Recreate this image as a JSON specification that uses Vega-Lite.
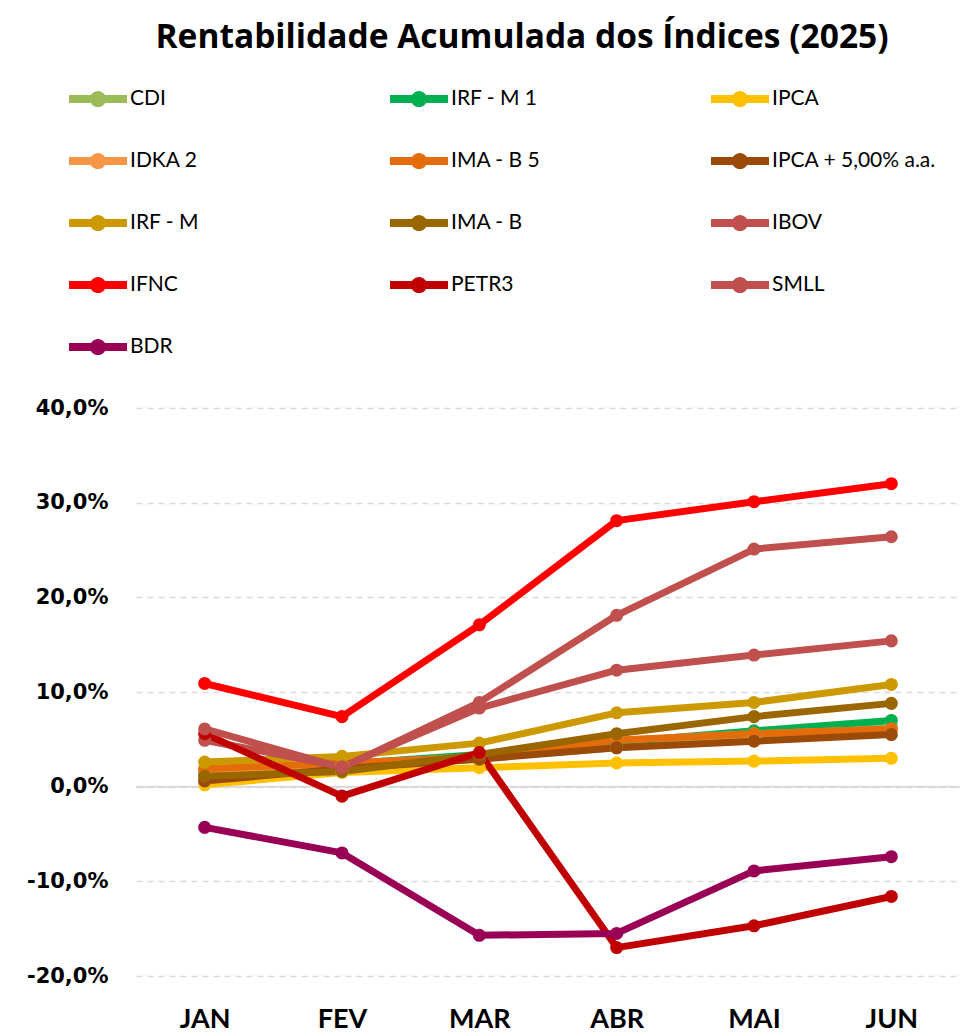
{
  "$schema": "https://vega.github.io/schema/vega-lite/v6.json",
  "autosize": "none",
  "width": 824,
  "height": 568,
  "padding": {"left": 136, "top": 408, "right": 6, "bottom": 60},
  "background": "white",
  "config": {"view": {"stroke": null}},
  "title": {
    "text": "Rentabilidade Acumulada dos Índices (2025)",
    "font": "Open Sans",
    "fontSize": 33.5,
    "fontWeight": "bold",
    "color": "#000000",
    "frame": "group",
    "anchor": "middle",
    "baseline": "alphabetic",
    "offset": -11,
    "dx": -26
  },
  "data": {
    "values": [
      {"serie": "CDI", "mes": "JAN", "valor": 1.0},
      {"serie": "CDI", "mes": "FEV", "valor": 2.0},
      {"serie": "CDI", "mes": "MAR", "valor": 3.0},
      {"serie": "CDI", "mes": "ABR", "valor": 4.1},
      {"serie": "CDI", "mes": "MAI", "valor": 5.3},
      {"serie": "CDI", "mes": "JUN", "valor": 6.4},
      {"serie": "IRF - M 1", "mes": "JAN", "valor": 1.4},
      {"serie": "IRF - M 1", "mes": "FEV", "valor": 2.4},
      {"serie": "IRF - M 1", "mes": "MAR", "valor": 3.4},
      {"serie": "IRF - M 1", "mes": "ABR", "valor": 4.7},
      {"serie": "IRF - M 1", "mes": "MAI", "valor": 5.9},
      {"serie": "IRF - M 1", "mes": "JUN", "valor": 7.0},
      {"serie": "IPCA", "mes": "JAN", "valor": 0.2},
      {"serie": "IPCA", "mes": "FEV", "valor": 1.5},
      {"serie": "IPCA", "mes": "MAR", "valor": 2.0},
      {"serie": "IPCA", "mes": "ABR", "valor": 2.5},
      {"serie": "IPCA", "mes": "MAI", "valor": 2.7},
      {"serie": "IPCA", "mes": "JUN", "valor": 3.0},
      {"serie": "IDKA 2", "mes": "JAN", "valor": 1.7},
      {"serie": "IDKA 2", "mes": "FEV", "valor": 2.4},
      {"serie": "IDKA 2", "mes": "MAR", "valor": 3.2},
      {"serie": "IDKA 2", "mes": "ABR", "valor": 4.9},
      {"serie": "IDKA 2", "mes": "MAI", "valor": 5.6},
      {"serie": "IDKA 2", "mes": "JUN", "valor": 6.1},
      {"serie": "IMA - B 5", "mes": "JAN", "valor": 1.9},
      {"serie": "IMA - B 5", "mes": "FEV", "valor": 2.5},
      {"serie": "IMA - B 5", "mes": "MAR", "valor": 3.1},
      {"serie": "IMA - B 5", "mes": "ABR", "valor": 4.9},
      {"serie": "IMA - B 5", "mes": "MAI", "valor": 5.6},
      {"serie": "IMA - B 5", "mes": "JUN", "valor": 6.1},
      {"serie": "IPCA + 5,00% a.a.", "mes": "JAN", "valor": 0.6},
      {"serie": "IPCA + 5,00% a.a.", "mes": "FEV", "valor": 1.9},
      {"serie": "IPCA + 5,00% a.a.", "mes": "MAR", "valor": 2.9},
      {"serie": "IPCA + 5,00% a.a.", "mes": "ABR", "valor": 4.1},
      {"serie": "IPCA + 5,00% a.a.", "mes": "MAI", "valor": 4.8},
      {"serie": "IPCA + 5,00% a.a.", "mes": "JUN", "valor": 5.5},
      {"serie": "IRF - M", "mes": "JAN", "valor": 2.6},
      {"serie": "IRF - M", "mes": "FEV", "valor": 3.2},
      {"serie": "IRF - M", "mes": "MAR", "valor": 4.6},
      {"serie": "IRF - M", "mes": "ABR", "valor": 7.8},
      {"serie": "IRF - M", "mes": "MAI", "valor": 8.9},
      {"serie": "IRF - M", "mes": "JUN", "valor": 10.8},
      {"serie": "IMA - B", "mes": "JAN", "valor": 1.1},
      {"serie": "IMA - B", "mes": "FEV", "valor": 1.6},
      {"serie": "IMA - B", "mes": "MAR", "valor": 3.4},
      {"serie": "IMA - B", "mes": "ABR", "valor": 5.6},
      {"serie": "IMA - B", "mes": "MAI", "valor": 7.4},
      {"serie": "IMA - B", "mes": "JUN", "valor": 8.8},
      {"serie": "IBOV", "mes": "JAN", "valor": 4.9},
      {"serie": "IBOV", "mes": "FEV", "valor": 2.1},
      {"serie": "IBOV", "mes": "MAR", "valor": 8.3},
      {"serie": "IBOV", "mes": "ABR", "valor": 12.3},
      {"serie": "IBOV", "mes": "MAI", "valor": 13.9},
      {"serie": "IBOV", "mes": "JUN", "valor": 15.4},
      {"serie": "IFNC", "mes": "JAN", "valor": 10.9},
      {"serie": "IFNC", "mes": "FEV", "valor": 7.4},
      {"serie": "IFNC", "mes": "MAR", "valor": 17.1},
      {"serie": "IFNC", "mes": "ABR", "valor": 28.1},
      {"serie": "IFNC", "mes": "MAI", "valor": 30.1},
      {"serie": "IFNC", "mes": "JUN", "valor": 32.0},
      {"serie": "PETR3", "mes": "JAN", "valor": 5.6},
      {"serie": "PETR3", "mes": "FEV", "valor": -1.0},
      {"serie": "PETR3", "mes": "MAR", "valor": 3.6},
      {"serie": "PETR3", "mes": "ABR", "valor": -17.0},
      {"serie": "PETR3", "mes": "MAI", "valor": -14.7},
      {"serie": "PETR3", "mes": "JUN", "valor": -11.6},
      {"serie": "SMLL", "mes": "JAN", "valor": 6.1},
      {"serie": "SMLL", "mes": "FEV", "valor": 2.0},
      {"serie": "SMLL", "mes": "MAR", "valor": 8.9},
      {"serie": "SMLL", "mes": "ABR", "valor": 18.1},
      {"serie": "SMLL", "mes": "MAI", "valor": 25.1},
      {"serie": "SMLL", "mes": "JUN", "valor": 26.4},
      {"serie": "BDR", "mes": "JAN", "valor": -4.3},
      {"serie": "BDR", "mes": "FEV", "valor": -7.0},
      {"serie": "BDR", "mes": "MAR", "valor": -15.7},
      {"serie": "BDR", "mes": "ABR", "valor": -15.5},
      {"serie": "BDR", "mes": "MAI", "valor": -8.9},
      {"serie": "BDR", "mes": "JUN", "valor": -7.4}
    ]
  },
  "encoding": {
    "x": {
      "field": "mes",
      "type": "ordinal",
      "sort": ["JAN", "FEV", "MAR", "ABR", "MAI", "JUN"],
      "scale": {"type": "point", "padding": 0.5},
      "axis": {
        "title": null,
        "domain": false,
        "ticks": false,
        "grid": false,
        "labelAngle": 0,
        "labelFont": "Lato",
        "labelFontSize": 27,
        "labelFontWeight": "bold",
        "labelColor": "#000000",
        "labelPadding": 30,
        "labelBaseline": "top"
      }
    },
    "y": {
      "field": "valor",
      "type": "quantitative",
      "scale": {"domain": [-20, 40], "nice": false, "zero": false},
      "axis": {
        "title": null,
        "values": [-20, -10, 0, 10, 20, 30, 40],
        "labelExpr": "datum.value + ',0%'",
        "domain": false,
        "ticks": false,
        "grid": true,
        "gridDash": [6, 5],
        "gridColor": "#D9D9D9",
        "gridWidth": 1.5,
        "labelFont": "DejaVu Sans",
        "labelFontSize": 21,
        "labelFontWeight": "bold",
        "labelColor": "#000000",
        "labelPadding": 28
      }
    }
  },
  "layer": [
    {
      "data": {"values": [{"z": 0}]},
      "mark": {"type": "rule", "color": "#D9D9D9", "strokeWidth": 2},
      "encoding": {"y": {"field": "z", "type": "quantitative"}, "x": null}
    },
    {
      "mark": {"type": "line", "strokeWidth": 7, "strokeCap": "round", "strokeJoin": "round"},
      "encoding": {
        "color": {
          "field": "serie",
          "type": "nominal",
          "scale": {
            "domain": ["CDI", "IRF - M 1", "IPCA", "IDKA 2", "IMA - B 5", "IPCA + 5,00% a.a.", "IRF - M", "IMA - B", "IBOV", "IFNC", "PETR3", "SMLL", "BDR"],
            "range": ["#9BBB59", "#00B050", "#FFC000", "#F79646", "#E46C0A", "#9C4A0A", "#CC9900", "#996600", "#C0504D", "#FF0000", "#C00000", "#C0504D", "#990055"]
          },
          "legend": {
            "orient": "none",
            "direction": "horizontal",
            "legendX": -67,
            "legendY": -338,
            "columns": 3,
            "gridAlign": "all",
            "columnPadding": 96,
            "rowPadding": 23,
            "padding": 0,
            "title": null,
            "symbolType": "M-1,-0.14L1,-0.14L1,0.14L-1,0.14Z M-0.28,0A0.28,0.28,0,1,1,0.28,0A0.28,0.28,0,1,1,-0.28,0Z",
            "symbolSize": 3364,
            "symbolStrokeWidth": 0,
            "labelFont": "Lato",
            "labelFontSize": 21,
            "labelColor": "#000000",
            "labelOffset": 3,
            "labelLimit": 400,
            "encode": {
              "symbols": {
                "update": {
                  "fill": {"scale": "color", "field": "value"},
                  "stroke": {"value": "transparent"},
                  "opacity": {"value": 1}
                }
              }
            }
          }
        }
      }
    },
    {
      "mark": {"type": "point", "filled": true, "size": 170, "opacity": 1},
      "encoding": {
        "color": {"field": "serie", "type": "nominal", "legend": null}
      }
    }
  ]
}
